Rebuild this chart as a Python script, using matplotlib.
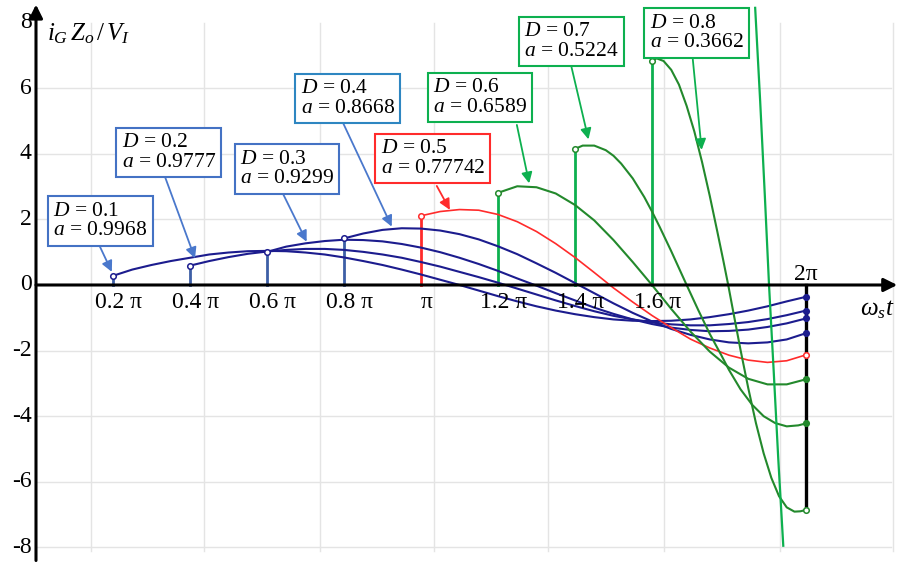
import matplotlib.pyplot as plt

plt.rcParams['font.family'] = ['Liberation Serif', 'DejaVu Serif']
plt.rcParams['mathtext.fontset'] = 'custom'
plt.rcParams['mathtext.rm'] = 'Liberation Serif'
plt.rcParams['mathtext.it'] = 'Liberation Serif:italic'

# x values are in units of pi (omega_s t / pi)
d1_x = [0.20, 0.25, 0.30, 0.35, 0.40, 0.45, 0.50, 0.55, 0.60, 0.65, 0.70, 0.75, 0.80,
        0.85, 0.90, 0.95, 1.00, 1.05, 1.10, 1.15, 1.20, 1.25, 1.30, 1.35, 1.40, 1.45,
        1.50, 1.55, 1.60, 1.65, 1.70, 1.75, 1.80, 1.85, 1.90, 1.95, 2.00]
d1_y = [0.28, 0.47, 0.61, 0.73, 0.83, 0.93, 0.99, 1.03, 1.04, 1.03, 0.99, 0.93, 0.84,
        0.73, 0.61, 0.47, 0.32, 0.16, 0.00, -0.17, -0.34, -0.50, -0.65, -0.78, -0.89, -0.98,
        -1.05, -1.09, -1.10, -1.09, -1.05, -0.98, -0.89, -0.78, -0.65, -0.50, -0.36]

d2_x = [0.40, 0.45, 0.50, 0.55, 0.60, 0.65, 0.70, 0.75, 0.80, 0.85, 0.90, 0.95, 1.00,
        1.05, 1.10, 1.15, 1.20, 1.25, 1.30, 1.35, 1.40, 1.45, 1.50, 1.55, 1.60, 1.65,
        1.70, 1.75, 1.80, 1.85, 1.90, 1.95, 2.00]
d2_y = [0.59, 0.73, 0.85, 0.95, 1.02, 1.07, 1.10, 1.10, 1.07, 1.01, 0.93, 0.83, 0.70,
        0.56, 0.40, 0.24, 0.07, -0.11, -0.29, -0.47, -0.64, -0.80, -0.94, -1.05, -1.14, -1.20,
        -1.23, -1.23, -1.19, -1.13, -1.04, -0.92, -0.78]

d3_x = [0.60, 0.65, 0.70, 0.75, 0.80, 0.85, 0.90, 0.95, 1.00, 1.05, 1.10, 1.15, 1.20,
        1.25, 1.30, 1.35, 1.40, 1.45, 1.50, 1.55, 1.60, 1.65, 1.70, 1.75, 1.80, 1.85,
        1.90, 1.95, 2.00]
d3_y = [1.01, 1.17, 1.27, 1.34, 1.38, 1.37, 1.33, 1.25, 1.14, 1.00, 0.83, 0.64, 0.43,
        0.20, -0.02, -0.25, -0.47, -0.69, -0.88, -1.05, -1.19, -1.30, -1.37, -1.41, -1.40, -1.36,
        -1.28, -1.17, -1.02]

d4_x = [0.80, 0.85, 0.90, 0.95, 1.00, 1.05, 1.10, 1.15, 1.20, 1.25, 1.30, 1.35, 1.40,
        1.45, 1.50, 1.55, 1.60, 1.65, 1.70, 1.75, 1.80, 1.85, 1.90, 1.95, 2.00]
d4_y = [1.42, 1.57, 1.68, 1.73, 1.72, 1.66, 1.55, 1.39, 1.18, 0.94, 0.66, 0.37, 0.06,
        -0.25, -0.56, -0.85, -1.11, -1.34, -1.52, -1.66, -1.75, -1.78, -1.75, -1.66, -1.47]

d5_x = [1.00, 1.05, 1.10, 1.15, 1.20, 1.25, 1.30, 1.35, 1.40, 1.45, 1.50, 1.55, 1.60,
        1.65, 1.70, 1.75, 1.80, 1.85, 1.90, 1.95, 2.00]
d5_y = [2.11, 2.24, 2.30, 2.28, 2.15, 1.93, 1.63, 1.26, 0.84, 0.38, -0.09, -0.52, -0.93,
        -1.30, -1.65, -1.92, -2.14, -2.29, -2.36, -2.31, -2.13]

d6_x = [1.20, 1.25, 1.30, 1.35, 1.40, 1.45, 1.50, 1.55, 1.60, 1.65, 1.70, 1.75, 1.80,
        1.85, 1.90, 1.95, 2.00]
d6_y = [2.81, 3.01, 2.98, 2.79, 2.44, 1.97, 1.37, 0.70, 0.00, -0.73, -1.42, -2.03, -2.52,
        -2.86, -3.03, -3.03, -2.875]

d7_x = [1.40, 1.42, 1.45, 1.48, 1.50, 1.52, 1.55, 1.58, 1.60, 1.62, 1.65, 1.69, 1.72,
        1.75, 1.78, 1.80, 1.83, 1.86, 1.89, 1.92, 1.95, 1.98, 2.00]
d7_y = [4.15, 4.25, 4.25, 4.11, 3.94, 3.70, 3.25, 2.68, 2.24, 1.77, 1.03, 0.00, -0.76,
        -1.49, -2.14, -2.59, -3.18, -3.65, -4.00, -4.21, -4.31, -4.28, -4.22]

d8_x = [1.600, 1.612, 1.63, 1.65, 1.67, 1.69, 1.71, 1.73, 1.75, 1.77, 1.785, 1.798, 1.81,
        1.83, 1.85, 1.87, 1.89, 1.91, 1.93, 1.95, 1.97, 1.985, 2.00]
d8_y = [6.83, 6.91, 6.83, 6.56, 6.11, 5.46, 4.68, 3.75, 2.72, 1.61, 0.76, 0.00, -0.75,
        -1.98, -3.14, -4.21, -5.13, -5.88, -6.44, -6.78, -6.91, -6.90, -6.86]

# steep unlabeled green trace
d9_x = [1.868, 1.881, 1.893, 1.904, 1.916, 1.928, 1.941]
d9_y = [8.45, 5.60, 2.75, 0.00, -2.60, -5.30, -7.95]

D_labels = ['0.1', '0.2', '0.3', '0.4', '0.5', '0.6', '0.7', '0.8']
a_labels = ['0.9968', '0.9777', '0.9299', '0.8668', '0.77742', '0.6589', '0.5224', '0.3662']

xtick_vals = [0.2, 0.4, 0.6, 0.8, 1.0, 1.2, 1.4, 1.6]
xtick_text = ['0.2 π', '0.4 π', '0.6 π', '0.8 π', 'π', '1.2 π', '1.4 π', '1.6 π']
ytick_vals = [8, 6, 4, 2, 0, -2, -4, -6, -8]

navy = '#1c1c8e'
steel = '#3d5fa6'
red = '#ff2b2b'
dgreen = '#23892c'
lgreen = '#0db04f'

fig = plt.figure(figsize=(8.98, 5.65), dpi=100)
ax = fig.add_axes([0, 0, 1, 1])
ax.set_xlim(-0.0935, 2.239)
ax.set_ylim(-8.537, 8.689)
ax.axis('off')

# background grid
for gx in [0.143, 0.436, 0.738, 1.034, 1.330, 1.631, 1.932, 2.226]:
    ax.plot([gx, gx], [-8.1, 8.0], color='#e4e4e4', lw=1, zorder=0)
for gy in [-8, -6, -4, -2, 2, 4, 6]:
    ax.plot([0, 2.22], [gy, gy], color='#e4e4e4', lw=1, zorder=0)

# axes with arrows
ax.annotate('', xy=(0, 8.55), xytext=(0, -8.4),
            arrowprops=dict(arrowstyle='-|>', lw=2.2, color='k', mutation_scale=20,
                            shrinkA=0, shrinkB=0), zorder=4)
ax.annotate('', xy=(2.237, 0), xytext=(0, 0),
            arrowprops=dict(arrowstyle='-|>', lw=2.2, color='k', mutation_scale=20,
                            shrinkA=0, shrinkB=0), zorder=4)

curves = [(d1_x, d1_y, navy, steel), (d2_x, d2_y, navy, steel),
          (d3_x, d3_y, navy, steel), (d4_x, d4_y, navy, steel),
          (d5_x, d5_y, red, red), (d6_x, d6_y, dgreen, lgreen),
          (d7_x, d7_y, dgreen, lgreen), (d8_x, d8_y, dgreen, lgreen)]

ax.plot([2, 2], [0, d8_y[-1]], color='k', lw=2.4, zorder=3)

for i, (xs, ys, c, vc) in enumerate(curves):
    lw = 1.2 if c == red else 1.5
    ax.plot(xs, ys, color=c, lw=lw, zorder=3)
    ax.plot([xs[0], xs[0]], [0, ys[0]], color=vc, lw=2, zorder=2)
    ax.plot(xs[0], ys[0], 'o', ms=4, mfc='white', mec=c, mew=1.1, zorder=4)
    end_fc = c if c == navy or i in (5, 6) else 'white'
    ax.plot(xs[-1], ys[-1], 'o', ms=4, mfc=end_fc, mec=c, mew=1.1, zorder=4)

ax.plot(d9_x, d9_y, color=lgreen, lw=1.6, zorder=3)

# annotation boxes
box_pos = [(0.167, 1.95), (0.345, 4.04), (0.652, 3.54), (0.810, 5.68),
           (1.031, 3.85), (1.153, 5.72), (1.390, 7.43), (1.716, 7.68)]
arrow_from = [(0.166, 1.17), (0.335, 3.30), (0.642, 2.77), (0.798, 4.93),
              (1.041, 3.02), (1.249, 4.88), (1.391, 6.64), (1.706, 6.88)]
arrow_to = [(0.197, 0.40), (0.413, 0.81), (0.703, 1.32), (0.924, 1.78),
            (1.075, 2.29), (1.281, 3.10), (1.435, 4.44), (1.729, 4.12)]
box_colors = ['#4472c4', '#4472c4', '#4472c4', '#2e86c1', red, lgreen, lgreen, lgreen]
arrow_colors = ['#4a78cc', '#4a78cc', '#4a78cc', '#4a78cc', red, lgreen, lgreen, lgreen]

for k in range(8):
    ax.annotate('', xy=arrow_to[k], xytext=arrow_from[k],
                arrowprops=dict(arrowstyle='-|>', lw=1.3, color=arrow_colors[k],
                                mutation_scale=16, shrinkA=0, shrinkB=0), zorder=5)
    ax.text(box_pos[k][0], box_pos[k][1],
            '$D$ = ' + D_labels[k] + '\n$a$ = ' + a_labels[k],
            ha='center', va='center', multialignment='left', fontsize=15.5,
            linespacing=1.05, zorder=6,
            bbox=dict(boxstyle='square,pad=0.25', fc='white', ec=box_colors[k], lw=1.5))

# tick labels
for v, t in zip(xtick_vals, xtick_text):
    ax.text(v + 0.014, -0.52, t, ha='center', va='center', fontsize=17)
for v in ytick_vals:
    ax.text(-0.011, v, str(v), ha='right', va='center', fontsize=17)

ax.text(2.0, 0.32, '2π', ha='center', va='center', fontsize=17)
ax.text(2.185, -0.76, r'$\omega_s t$', ha='center', va='center', fontsize=18)
ax.text(0.028, 7.65, r'$i_G\,Z_o\,/\,V_I$', ha='left', va='center', fontsize=18)

fig.savefig('out.png', dpi=100)
